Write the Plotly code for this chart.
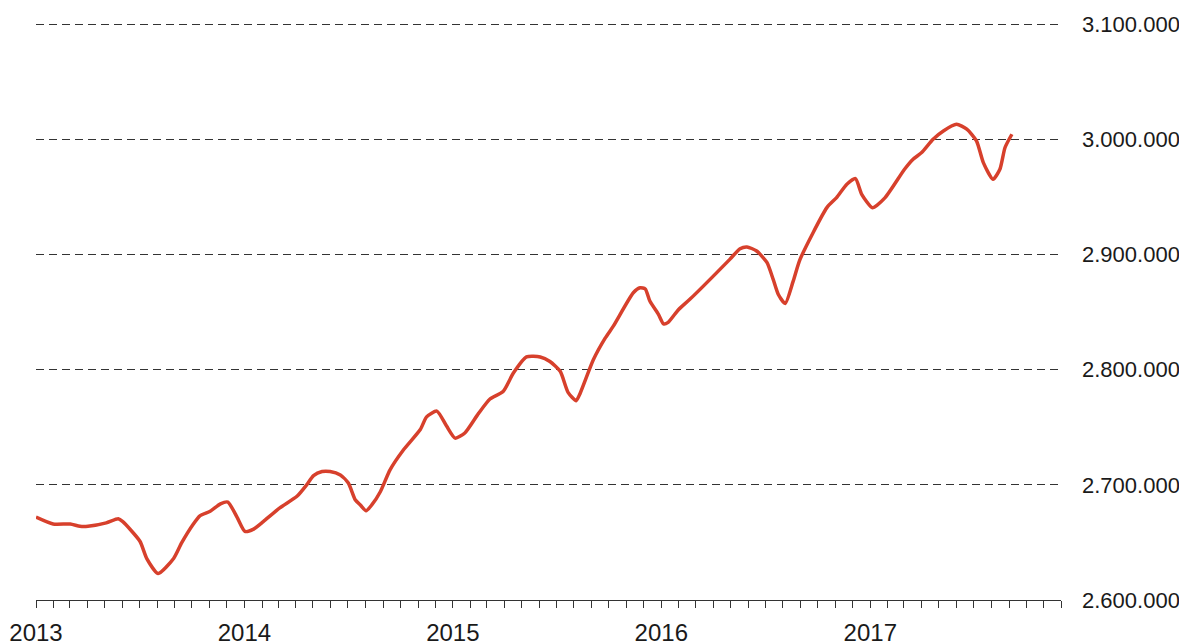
import pandas as pd
import plotly.graph_objects as go

dates = [
    "2013-01-01", "2013-01-31", "2013-03-02", "2013-03-19", "2013-04-02", "2013-05-04",
    "2013-05-25", "2013-06-02", "2013-07-02", "2013-07-14", "2013-08-03", "2013-08-30",
    "2013-09-13", "2013-10-03", "2013-10-15", "2013-11-02", "2013-11-20", "2013-12-03",
    "2013-12-19", "2014-01-02", "2014-01-17", "2014-02-03", "2014-03-04", "2014-04-03",
    "2014-04-20", "2014-05-02", "2014-05-17", "2014-05-31", "2014-06-18", "2014-07-02",
    "2014-07-14", "2014-07-23", "2014-08-02", "2014-08-12", "2014-08-27", "2014-09-13",
    "2014-10-06", "2014-11-05", "2014-11-16", "2014-12-04", "2014-12-21", "2015-01-05",
    "2015-01-22", "2015-02-15", "2015-03-07", "2015-03-30", "2015-04-17", "2015-05-10",
    "2015-06-03", "2015-06-20", "2015-07-08", "2015-07-22", "2015-08-05", "2015-08-12",
    "2015-09-04", "2015-09-25", "2015-10-09", "2015-11-13", "2015-11-25", "2015-12-04",
    "2015-12-12", "2015-12-27", "2016-01-05", "2016-01-13", "2016-01-31", "2016-02-20",
    "2016-04-30", "2016-05-18", "2016-05-30", "2016-06-16", "2016-07-04", "2016-07-15",
    "2016-07-24", "2016-08-05", "2016-08-19", "2016-08-31", "2016-10-17", "2016-11-03",
    "2016-11-21", "2016-12-06", "2016-12-17", "2017-01-05", "2017-01-27", "2017-03-02",
    "2017-03-17", "2017-04-01", "2017-04-21", "2017-05-09", "2017-06-01", "2017-06-19",
    "2017-07-06", "2017-07-18", "2017-08-04", "2017-08-16", "2017-08-25", "2017-09-06",
]
values = [
    2672000, 2666000, 2666000, 2664000, 2664000, 2667000,
    2670500, 2668000, 2651000, 2636000, 2623000, 2636000,
    2649500, 2665500, 2673000, 2677000, 2683500, 2685000,
    2672000, 2659500, 2661500, 2668000, 2680000, 2690000,
    2700000, 2708000, 2711500, 2711500, 2708500, 2701500,
    2687000, 2682500, 2677500, 2682500, 2694000, 2713000,
    2730000, 2748000, 2759000, 2764000, 2751000, 2740500,
    2745000, 2762000, 2774500, 2781000, 2797000, 2811000,
    2811000, 2807000, 2798500, 2780000, 2773000, 2779500,
    2808500, 2827500, 2837700, 2866700, 2871000, 2870000,
    2859500, 2848000, 2839700, 2841000, 2852000, 2861000,
    2895700, 2905000, 2906500, 2903000, 2893000, 2878300,
    2865200, 2857400, 2876800, 2895700, 2940600, 2949300,
    2960900, 2965800, 2952200, 2940600, 2949300, 2973900,
    2982600, 2988400, 3000000, 3007200, 3013000, 3008700,
    2998600, 2979700, 2965200, 2973900, 2992800, 3004300,
]

year_labels = ["2013", "2014", "2015", "2016", "2017"]
y_ticks = [2600000, 2700000, 2800000, 2900000, 3000000, 3100000]
y_tick_labels = ["2.600.000", "2.700.000", "2.800.000", "2.900.000", "3.000.000", "3.100.000"]

month_ticks = pd.date_range("2013-01-01", "2017-12-01", freq="MS")
month_text = [year_labels[d.year - 2013] if d.month == 1 else "" for d in month_ticks]

fig = go.Figure()
fig.add_trace(go.Scatter(
    x=pd.to_datetime(dates), y=values, mode="lines",
    line=dict(color="#d7402c", width=3.5, shape="spline", smoothing=0.6),
    hoverinfo="x+y", showlegend=False,
))

# the page body adds an 8px margin, so the figure is shifted 8px into the window
fig.update_layout(
    width=1179, height=644,
    margin=dict(l=28, r=126, t=11, b=52, autoexpand=False),
    paper_bgcolor="white", plot_bgcolor="white",
    font=dict(family="Liberation Sans, Arial, sans-serif", color="#1a1a1a"),
    xaxis=dict(
        range=["2013-01-01", "2017-12-01"],
        tickvals=list(month_ticks), ticktext=month_text,
        ticks="outside", ticklen=7, tickwidth=1, tickcolor="#333",
        showline=True, linecolor="#333", linewidth=1,
        showgrid=False, zeroline=False, automargin=False,
        tickfont=dict(size=24, color="#1a1a1a"),
        tickangle=0, ticklabelstandoff=4,
    ),
    yaxis=dict(
        range=[2600000, 3104350], side="right",
        tickvals=y_ticks, ticktext=y_tick_labels,
        showgrid=True, gridcolor="#333", gridwidth=1, griddash="8px,5px",
        zeroline=False, showline=False, ticks="", automargin=False,
        ticklabelstandoff=20,
        tickfont=dict(size=22, color="#1a1a1a"),
    ),
)

fig.write_html("out.html")
